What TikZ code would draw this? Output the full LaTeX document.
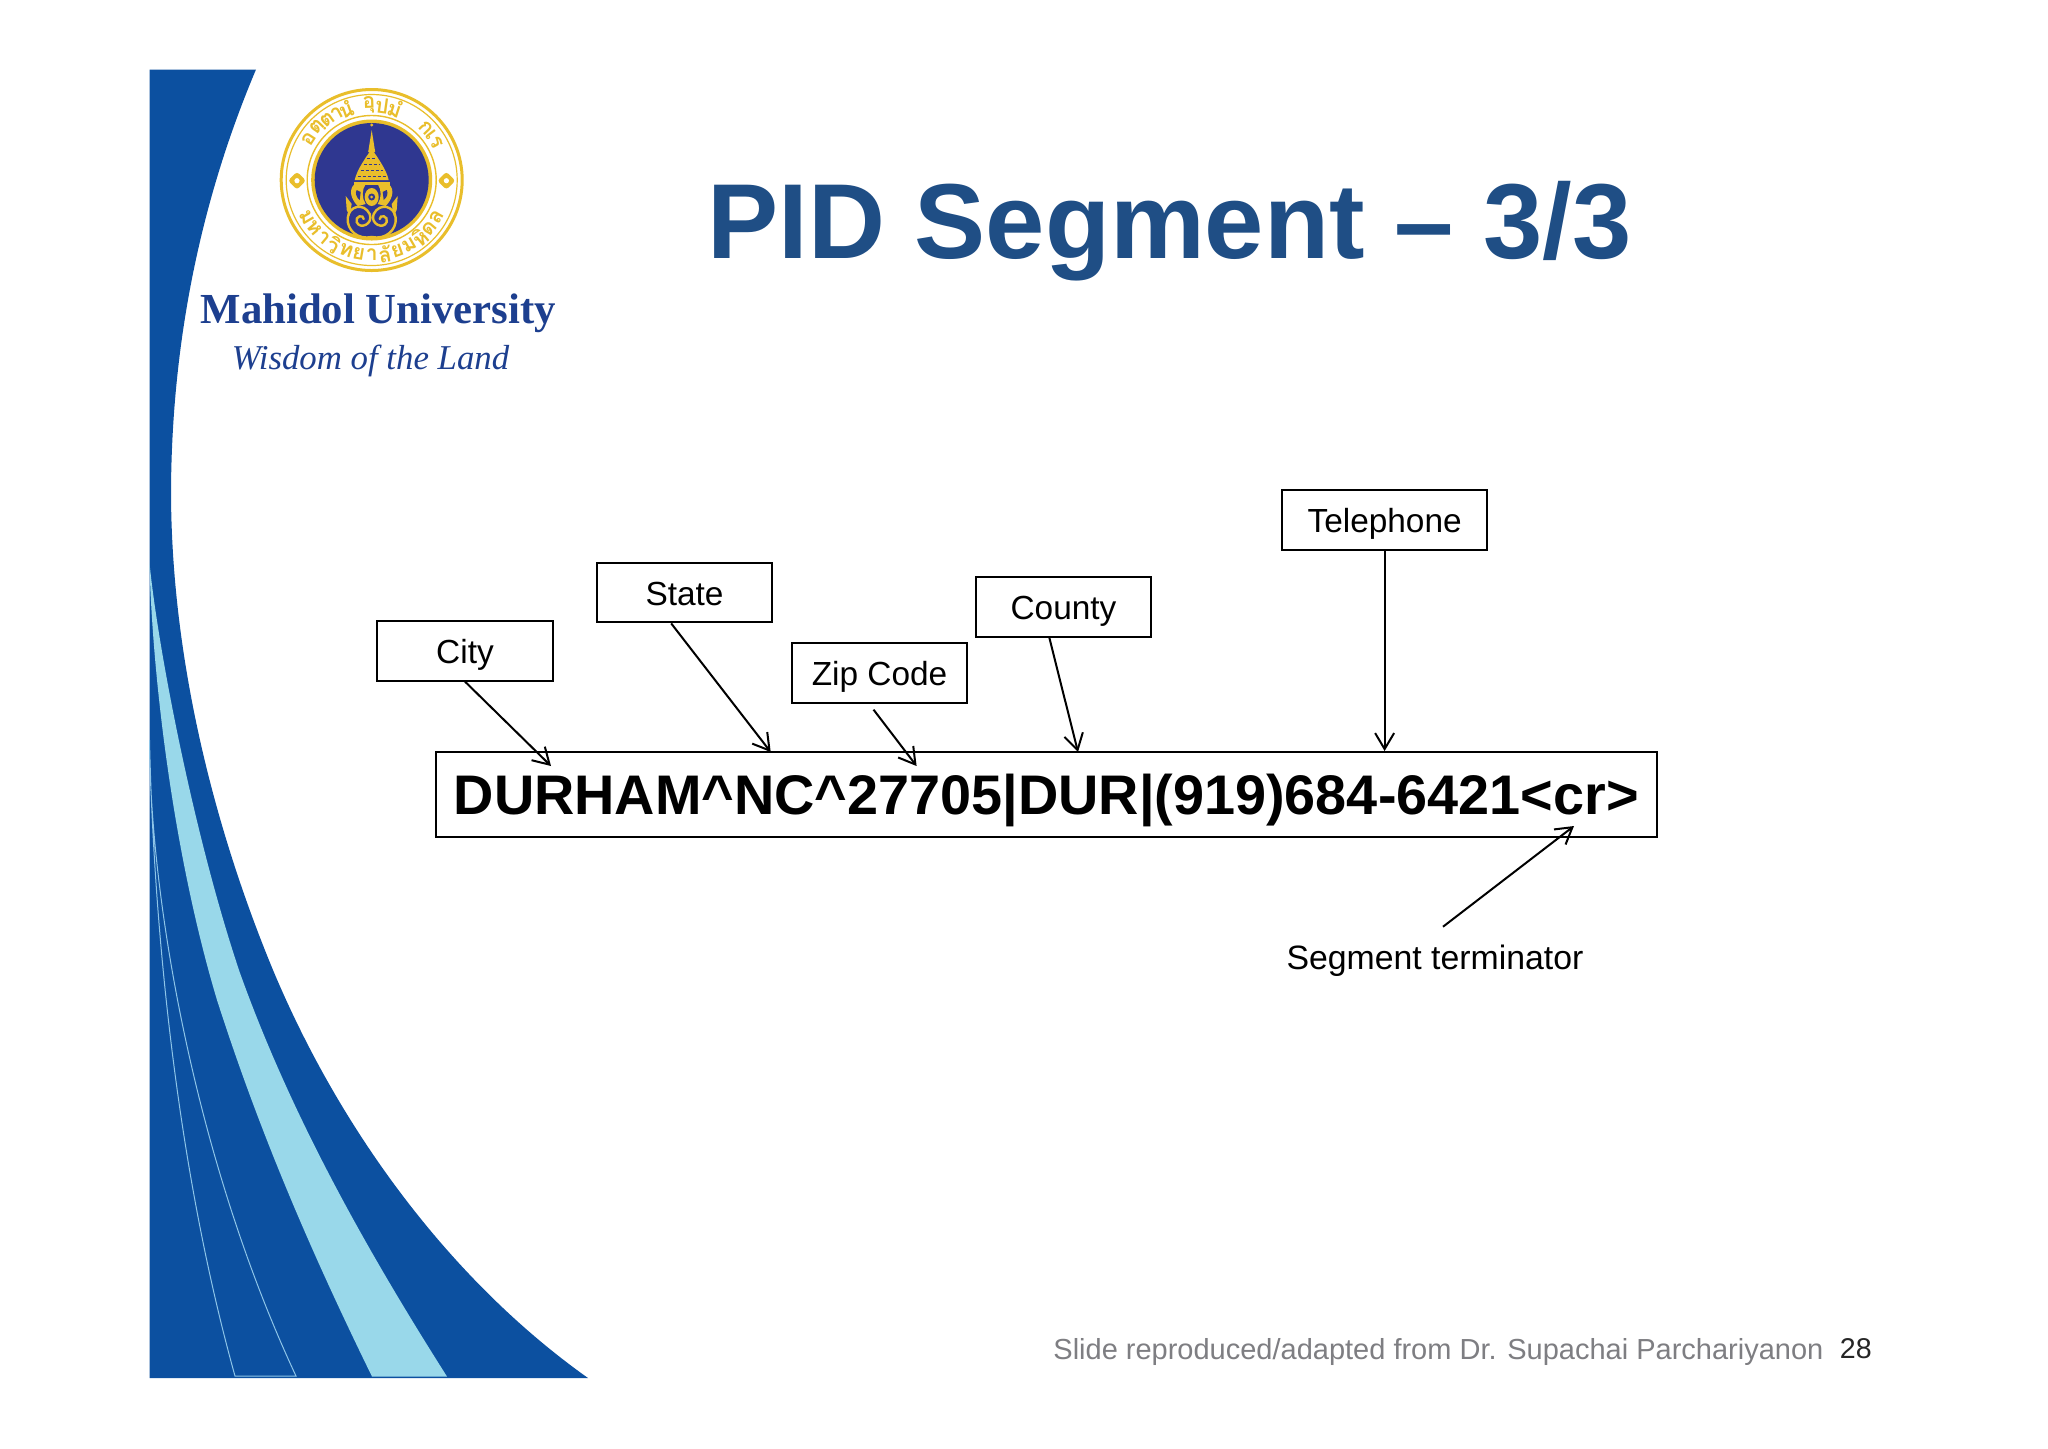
\documentclass[tikz,border=0pt]{standalone}
\usepackage{fontspec}
\setmainfont{Liberation Sans}
\newfontfamily\uniserif{Liberation Serif}
\newfontfamily\thaifont[Script=Thai]{Loma}
\usetikzlibrary{arrows.meta}
\definecolor{swoosh}{HTML}{0C50A0}
\definecolor{band}{HTML}{99D8EA}
\definecolor{hair}{HTML}{8EC5E8}
\definecolor{titleblue}{HTML}{1F4E85}
\definecolor{uniblue}{HTML}{1D3F8F}
\definecolor{footgray}{HTML}{7E7E82}
\definecolor{gold}{HTML}{E9BE2B}
\definecolor{sealblue}{HTML}{2F3790}
\tikzset{
  labelbox/.style={draw=black,line width=1pt,inner sep=0pt,minimum width=87.75pt,minimum height=29.6pt,
    text height=12.8pt,text depth=0pt,font=\fontsize{16.7}{20}\selectfont},
  pointer/.style={draw=black,line width=1pt,-{Straight Barb[length=8pt,width=9.5pt]}},
  plain/.style={inner sep=0pt,anchor=base},
  thaitop/.style={inner sep=0pt,text=gold,font=\fontsize{10.5}{13}\thaifont\bfseries},
}
\begin{document}
\begin{tikzpicture}[x=.5pt,y=-.5pt]
\useasboundingbox (0,0) rectangle (2048,1448);
\fill[white] (0,0) rectangle (2048,1448);
% swoosh
\fill[swoosh] (149.5,69.5) -- (256,69.5) .. controls (205,190) and (172,330) .. (171,490) .. controls (171,660) and (215,830) .. (273,970) .. controls (340,1130) and (450,1280) .. (588,1378) -- (149.5,1378) -- cycle;
\fill[band] (149.5,563) .. controls (158,650) and (195,840) .. (240,973) .. controls (292,1118) and (368,1252) .. (447,1376.5) -- (372,1376.5) .. controls (315,1260) and (262,1140) .. (217,1000) .. controls (172,850) and (152,670) .. (149.5,563) -- cycle;
\draw[hair,line width=.5pt] (149.5,740) .. controls (153,900) and (172,1150) .. (235,1376) -- (296,1376) .. controls (195,1160) and (150,900) .. (149.5,740);
% seal
\begin{scope}[shift={(371.7,180)}]
\draw[gold,line width=1.5pt] (0,0) circle[radius=90.5];
\draw[gold,line width=.6pt] (0,0) circle[radius=85.5];
\draw[gold,line width=.7pt] (0,0) circle[radius=64.5];
\fill[gold] (0,0) circle[radius=60.5];
\fill[sealblue] (0,0) circle[radius=57];
\foreach \t/\a in {อ/147,ตฺ/136,ต/126,า/118,นํ/110,อุ/92,ป/82,มํ/72,ก/44,เ/37,ร/30}
  \node[thaitop,rotate=\a-90] (thai\a) at ({75*cos(\a)},{-75*sin(\a)}) {\t};
\foreach \t/\a in {ม/210,ห/220,า/230,วิ/240,ท/250,ย/260,า/270,ลั/280,ย/290,ม/300,หิ/310,ด/320,ล/330}
  \node[thaitop,rotate=\a+90] (thai\a) at ({75*cos(\a)},{-75*sin(\a)}) {\t};
\foreach \s in {1,-1}{
  \begin{scope}[shift={(\s*74.7,0.7)}]
    \fill[gold,rounded corners=1.5pt] (0,-9) -- (9,0) -- (0,9) -- (-9,0) -- cycle;
    \fill[white] (0,0) circle[radius=2.6];
  \end{scope}
  \begin{scope}[xscale=\s]
    \draw[gold,line width=1.2pt,line cap=round] (0,57) .. controls (-14,60) and (-25,50) .. (-24,38) .. controls (-23,26) and (-8,22) .. (-2,34) .. controls (2,44) and (-12,50) .. (-15,42) .. controls (-17,36) and (-8,34) .. (-8,39);
    \fill[gold] (-26,16) -- (-20,24) -- (-22,36) -- (-25,30) -- cycle;
    \fill[gold] (-17,4) .. controls (-24,10) and (-20,20) .. (-14,26) -- (-6,24) .. controls (-10,18) and (-10,10) .. (-6,4) -- cycle;
    \fill[sealblue] (-15,10) .. controls (-17,13) and (-15,18) .. (-12,20) -- (-11,12) -- cycle;
  \end{scope}
}
\fill[gold] (0,-55) circle[radius=1.6];
\fill[gold] (0,-50) -- (3.5,-28) -- (-3.5,-28) -- cycle;
\fill[gold] (0,-31) .. controls (5,-24) and (15,-10) .. (17,0) -- (-17,0) .. controls (-15,-10) and (-5,-24) .. (0,-31) -- cycle;
\foreach \v/\w in {-22/5,-16/8,-10/11,-4/14}
  \draw[sealblue,line width=.5pt,dash pattern=on 1.5pt off 1pt] (-\w,\v) -- (\w,\v);
\fill[gold] (-18,1.5) rectangle (18,5);
\fill[gold] (0,17) ellipse[x radius=7,y radius=9];
\fill[sealblue] (0,17) circle[radius=3.5];
\fill[gold] (0,17) circle[radius=1.5];
\end{scope}
% wordmark
\node[plain,text=uniblue,font=\fontsize{21.4}{25}\uniserif\bfseries] (uni) at (378.4,323.5) {Mahidol University};
\node[plain,text=uniblue,font=\fontsize{17.4}{20}\uniserif\itshape] (motto) at (370.5,369.5) {Wisdom of the Land};
% title
\node[plain,anchor=base west,text=titleblue,font=\fontsize{53.3}{60}\selectfont\bfseries] (title) at (707,258) {PID Segment – 3/3};
% boxes
\node[labelbox] (city) at (465,651) {City};
\node[labelbox] (state) at (684.5,592.8) {State};
\node[labelbox] (zip) at (879.5,673) {Zip Code};
\node[labelbox] (county) at (1063.5,607) {County};
\node[labelbox,minimum width=102.4pt] (tel) at (1384.6,520) {Telephone};
\node[draw=black,line width=1pt,inner sep=0pt,minimum width=610.75pt,minimum height=42.5pt,text height=19.97pt,text depth=0pt,font=\fontsize{27.9}{32}\selectfont\bfseries] (main) at (1046.3,794.5) {DURHAM\^{}NC\^{}27705|DUR|(919)684-6421<cr>};
\node[plain,font=\fontsize{16.9}{20}\selectfont] (seg) at (1435,969.5) {Segment terminator};
% connector ends
\coordinate (cityend) at (551,766);
\coordinate (stateend) at (770.7,752);
\coordinate (zipend) at (916.6,766);
\coordinate (countyend) at (1078,752);
\coordinate (segstart) at (1443,926.7);
\coordinate (segend) at (1574,826);
\draw[pointer] (city.south) -- (cityend);
\draw[pointer] ([xshift=-6.65pt]state.south) -- (stateend);
\draw[pointer] ([xshift=-3pt,yshift=-3pt]zip.south) -- (zipend);
\draw[pointer] ([xshift=-7.1pt]county.south) -- (countyend);
\draw[pointer] (tel.south) -- (tel.south |- main.north);
\draw[pointer] (segstart) -- (segend);
% footer
\node[plain,anchor=base west,text=footgray,font=\fontsize{14.5}{17}\selectfont] (foot) at (1053,1359) {Slide reproduced/adapted from Dr. Supachai Parchariyanon};
\node[plain,anchor=base west,text=black!85,font=\fontsize{14.3}{17}\selectfont] (page) at (1839.5,1358) {28};
\end{tikzpicture}
\end{document}
